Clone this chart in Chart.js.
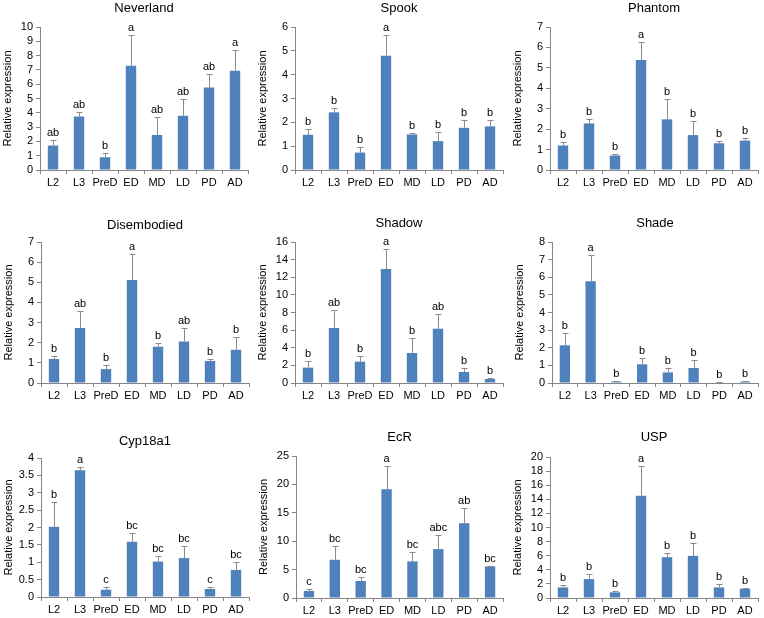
<!DOCTYPE html>
<html>
<head>
<meta charset="utf-8">
<script src="https://cdn.jsdelivr.net/npm/chart.js@4/dist/chart.umd.min.js"></script>
<style>
  html, body { margin: 0; padding: 0; background: #ffffff; overflow: hidden; }
  #wrap { position: relative; width: 764px; height: 618px; }
  #wrap canvas { position: absolute; }
</style>
</head>
<body>
<div id="wrap"></div>
<script>
// ------------------------------
// Relative expression of ecdysteroid genes across stages
// ------------------------------

const stages = ['L2', 'L3', 'PreD', 'ED', 'MD', 'LD', 'PD', 'AD'];

const neverland = [1.71, 3.74, 0.89, 7.29, 2.45, 3.79, 5.77, 6.94];
const neverlandErr = [0.39, 0.30, 0.28, 2.17, 1.24, 1.16, 0.94, 1.47];
const neverlandSig = ['ab', 'ab', 'b', 'a', 'ab', 'ab', 'ab', 'a'];

const spook = [1.48, 2.42, 0.73, 4.79, 1.49, 1.21, 1.77, 1.83];
const spookErr = [0.25, 0.20, 0.23, 0.89, 0.07, 0.40, 0.34, 0.28];
const spookSig = ['b', 'b', 'b', 'a', 'b', 'b', 'b', 'b'];

const phantom = [1.20, 2.28, 0.71, 5.39, 2.48, 1.71, 1.31, 1.44];
const phantomErr = [0.16, 0.20, 0.06, 0.87, 1.02, 0.69, 0.10, 0.15];
const phantomSig = ['b', 'b', 'b', 'a', 'b', 'b', 'b', 'b'];

const disembodied = [1.19, 2.73, 0.69, 5.11, 1.80, 2.06, 1.09, 1.65];
const disembodiedErr = [0.13, 0.83, 0.20, 1.31, 0.21, 0.69, 0.10, 0.64];
const disembodiedSig = ['b', 'ab', 'b', 'a', 'b', 'ab', 'b', 'b'];

const shadow = [1.74, 6.24, 2.42, 12.93, 3.40, 6.16, 1.25, 0.45];
const shadowErr = [0.76, 2.08, 0.68, 2.27, 1.70, 1.67, 0.45, 0.12];
const shadowSig = ['b', 'ab', 'b', 'a', 'b', 'ab', 'b', 'b'];

const shade = [2.14, 5.78, 0.08, 1.06, 0.60, 0.85, 0.02, 0.08];
const shadeErr = [0.70, 1.50, 0.02, 0.38, 0.25, 0.45, 0.01, 0.02];
const shadeSig = ['b', 'a', 'b', 'b', 'b', 'b', 'b', 'b'];

const cyp18a1 = [2.02, 3.65, 0.21, 1.59, 1.02, 1.12, 0.23, 0.78];
const cyp18a1Err = [0.72, 0.09, 0.08, 0.24, 0.17, 0.35, 0.06, 0.24];
const cyp18a1Sig = ['b', 'a', 'c', 'bc', 'bc', 'bc', 'c', 'bc'];

const ecr = [1.23, 6.73, 2.99, 19.15, 6.44, 8.61, 13.17, 5.56];
const ecrErr = [0.35, 2.46, 0.70, 4.09, 1.64, 2.51, 2.70, 0.12];
const ecrSig = ['c', 'bc', 'bc', 'a', 'bc', 'abc', 'ab', 'bc'];

const usp = [1.50, 2.68, 0.80, 14.49, 5.79, 5.98, 1.50, 1.32];
const uspErr = [0.34, 0.71, 0.19, 4.29, 0.56, 1.78, 0.52, 0.09];
const uspSig = ['b', 'b', 'b', 'a', 'b', 'b', 'b', 'b'];

// y axis ranges per panel
const yMax = [10, 6, 7, 7, 16, 8, 4, 25, 20];
const yStep = [1, 1, 1, 1, 2, 1, 0.5, 5, 2];

// =====================
// Panel layout (page pixels): y axis x, plot top, plot bottom, plot right, title y
// =====================
const panels = [
    { title: 'Neverland',   mean: neverland,   err: neverlandErr,   sig: neverlandSig,   ax: 40,  top: 27,  bot: 170, right: 248, ty: 8 },
    { title: 'Spook',       mean: spook,       err: spookErr,       sig: spookSig,       ax: 295, top: 27,  bot: 170, right: 503, ty: 8 },
    { title: 'Phantom',     mean: phantom,     err: phantomErr,     sig: phantomSig,     ax: 550, top: 27,  bot: 170, right: 758, ty: 8 },
    { title: 'Disembodied', mean: disembodied, err: disembodiedErr, sig: disembodiedSig, ax: 41,  top: 242, bot: 383, right: 249, ty: 225 },
    { title: 'Shadow',      mean: shadow,      err: shadowErr,      sig: shadowSig,      ax: 295, top: 242, bot: 383, right: 503, ty: 223 },
    { title: 'Shade',       mean: shade,       err: shadeErr,       sig: shadeSig,       ax: 552, top: 242, bot: 383, right: 758, ty: 223 },
    { title: 'Cyp18a1',     mean: cyp18a1,     err: cyp18a1Err,     sig: cyp18a1Sig,     ax: 41,  top: 458, bot: 597, right: 249, ty: 441 },
    { title: 'EcR',         mean: ecr,         err: ecrErr,         sig: ecrSig,         ax: 296, top: 456, bot: 598, right: 503, ty: 437 },
    { title: 'USP',         mean: usp,         err: uspErr,         sig: uspSig,         ax: 550, top: 457, bot: 598, right: 758, ty: 437 }
];

const FONT = '"Liberation Sans", Arial, sans-serif';
const AXIS_GREY = '#868686';
const BAR_BLUE = '#4F81BD';
const Y_W = 43;     // y axis box width
const X_H = 22;     // x axis box height
const PAD_TOP = 27;
const PAD_RIGHT = 2;

// error bars, significance letters and panel title
function makeExtras(p, canvasTop) {
    return {
        id: 'extras',
        afterDatasetsDraw(chart) {
            const { ctx, chartArea } = chart;
            const y = chart.scales.y;
            const meta = chart.getDatasetMeta(0);
            ctx.save();
            meta.data.forEach((bar, i) => {
                const yTop = Math.round(y.getPixelForValue(p.mean[i] + p.err[i])) + 0.5;
                const cx = Math.round(bar.x) + 0.5;
                ctx.strokeStyle = '#8c8c8c';
                ctx.lineWidth = 1;
                ctx.beginPath();
                ctx.moveTo(cx, bar.y);
                ctx.lineTo(cx, yTop);
                ctx.moveTo(cx - 3, yTop);
                ctx.lineTo(cx + 3, yTop);
                ctx.stroke();

                ctx.fillStyle = '#000000';
                ctx.font = '11px ' + FONT;
                ctx.textAlign = 'center';
                ctx.textBaseline = 'bottom';
                ctx.fillText(p.sig[i], bar.x, yTop - 2);
            });
            ctx.font = '13px ' + FONT;
            ctx.textAlign = 'center';
            ctx.textBaseline = 'middle';
            ctx.fillStyle = '#000000';
            ctx.fillText(p.title, (chartArea.left + chartArea.right) / 2, p.ty - canvasTop);
            ctx.restore();
        }
    };
}

const wrap = document.getElementById('wrap');

panels.forEach((p, k) => {
    const canvas = document.createElement('canvas');
    const left = p.ax - Y_W;
    const top = p.top - PAD_TOP;
    const width = (p.right - p.ax) + Y_W + PAD_RIGHT;
    const height = PAD_TOP + (p.bot - p.top) + X_H;
    canvas.width = width;
    canvas.height = height;
    canvas.style.left = left + 'px';
    canvas.style.top = top + 'px';
    canvas.style.width = width + 'px';
    canvas.style.height = height + 'px';
    wrap.appendChild(canvas);

    new Chart(canvas, {
        type: 'bar',
        data: {
            labels: stages,
            datasets: [{
                data: p.mean,
                backgroundColor: BAR_BLUE,
                borderWidth: 0,
                barPercentage: 0.4,
                categoryPercentage: 1.0
            }]
        },
        options: {
            responsive: false,
            animation: false,
            events: [],
            devicePixelRatio: 1,
            layout: { padding: { top: PAD_TOP, right: PAD_RIGHT, left: 0, bottom: 0 } },
            plugins: {
                legend: { display: false },
                tooltip: { enabled: false },
                title: { display: false }
            },
            scales: {
                x: {
                    offset: true,
                    grid: {
                        offset: true,
                        drawOnChartArea: false,
                        drawTicks: true,
                        tickLength: 4,
                        color: AXIS_GREY
                    },
                    border: { color: AXIS_GREY, width: 1 },
                    ticks: {
                        color: '#000000',
                        font: { family: FONT, size: 11 },
                        padding: 2,
                        maxRotation: 0,
                        minRotation: 0,
                        autoSkip: false
                    },
                    afterFit: (scale) => { scale.height = X_H; }
                },
                y: {
                    min: 0,
                    max: yMax[k],
                    grid: {
                        drawOnChartArea: false,
                        drawTicks: true,
                        tickLength: 4,
                        color: AXIS_GREY
                    },
                    border: { color: AXIS_GREY, width: 1 },
                    ticks: {
                        stepSize: yStep[k],
                        autoSkip: false,
                        color: '#000000',
                        font: { family: FONT, size: 11 },
                        padding: 3,
                        callback: (v) => String(v)
                    },
                    title: {
                        display: true,
                        text: 'Relative expression',
                        color: '#000000',
                        font: { family: FONT, size: 11 },
                        padding: { top: 4, bottom: 4 }
                    },
                    afterFit: (scale) => { scale.width = Y_W; }
                }
            }
        },
        plugins: [makeExtras(p, top)]
    });
});
</script>
</body>
</html>
